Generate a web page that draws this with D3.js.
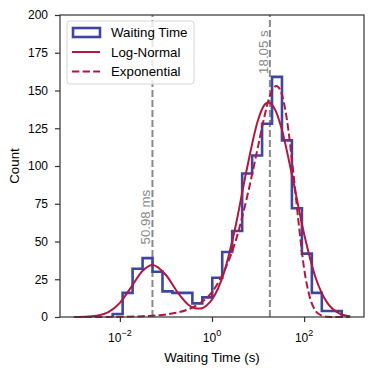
<!DOCTYPE html>
<html>
<head>
<meta charset="utf-8">
<script src="https://cdn.jsdelivr.net/npm/d3@7"></script>
<style>
  body { margin: 0; background: #fff; }
  svg { font-family: "Liberation Sans", Arial, sans-serif; }
</style>
</head>
<body>
<div id="chart"></div>
<script>
// histogram bin edges (seconds) and counts
var binEdges = [0.00698, 0.01148, 0.01888, 0.03111, 0.05117, 0.08414, 0.1384, 0.2275,
  0.3750, 0.6166, 1.014, 1.667, 2.742, 4.519, 7.430, 12.22, 20.09, 33.04,
  54.33, 89.54, 147.2, 242.1, 398.1, 654.6];
var binCounts = [2, 16, 32, 39, 30, 17, 16, 16, 9, 13, 26, 43, 57, 95, 107, 128, 159, 117, 72, 42, 16, 4, 4];

// log-normal fit curve, x as powers of ten
var lognormExp = [-3.0, -2.75, -2.5, -2.25, -2.0, -1.75, -1.5, -1.29, -1.0, -0.75, -0.5, -0.375,
  -0.25, -0.125, 0, 0.25, 0.5, 0.75, 1.0, 1.125, 1.22, 1.375, 1.5, 1.75, 2.0, 2.25, 2.5, 2.75, 3.0];
var lognormVal = [0.02, 0.15, 0.8, 3.2, 9.4, 20.0, 30.8, 34.5, 27.8, 16.5, 7.8, 5.8,
  5.6, 7.5, 11.6, 28.4, 58.5, 97, 130.5, 139.8, 142, 137, 126, 92, 55, 26, 9.5, 2.6, 0.5];

// exponential fit curve
var expoExp = [-3.0, -2.5, -2.0, -1.5, -1.0, -0.5, -0.25, 0, 0.25, 0.5, 0.75, 1.0, 1.125, 1.25,
  1.4, 1.5, 1.625, 1.75, 1.875, 2.0, 2.125, 2.25, 2.375, 2.5, 3.0];
var expoVal = [0.02, 0.05, 0.17, 0.53, 1.7, 5.3, 9.3, 16.5, 29.5, 49, 78, 113, 131, 146,
  153, 149, 131, 100, 64, 32, 13, 4, 1, 0.1, 0];

// marked medians
var markTimes = [0.05098, 18.05];
var markLabels = ["50.98 ms", "18.05 s"];
var markLabelY = [48, 161];

var yTicks = [0, 25, 50, 75, 100, 125, 150, 175, 200];
var xTicks = [1e-2, 1e0, 1e2];
var xTickPow = ["\u22122", "0", "2"];

var legendNames = ["Waiting Time", "Log-Normal", "Exponential"];

var width = 374, height = 374;
var margin = { top: 15, right: 10, bottom: 57, left: 60 };

var blue = "#3f46a2", red = "#b3173f", grey = "#8a8a8a";

var svg = d3.select("#chart").append("svg")
  .attr("width", width)
  .attr("height", height);

var x = d3.scaleLog()
  .domain([Math.pow(10, -3.3), Math.pow(10, 3.3)])
  .range([margin.left, width - margin.right]);

var y = d3.scaleLinear()
  .domain([0, 200])
  .range([height - margin.bottom, margin.top]);

// vertical marker lines
svg.selectAll(".vline")
  .data(markTimes)
  .enter().append("line")
  .attr("x1", function(d) { return x(d); })
  .attr("x2", function(d) { return x(d); })
  .attr("y1", y(0))
  .attr("y2", y(200))
  .attr("stroke", grey)
  .attr("stroke-width", 2)
  .attr("stroke-dasharray", "7,3");

// histogram outline (step)
var pts = [[binEdges[0], 0]];
binCounts.forEach(function(c, i) {
  pts.push([binEdges[i], c]);
  pts.push([binEdges[i + 1], c]);
});
pts.push([binEdges[binEdges.length - 1], 0]);

svg.append("path")
  .datum(pts)
  .attr("fill", "none")
  .attr("stroke", blue)
  .attr("stroke-width", 2.6)
  .attr("stroke-linejoin", "miter")
  .attr("d", d3.line()
    .x(function(d) { return x(d[0]); })
    .y(function(d) { return y(d[1]); }));

var curveLine = d3.line()
  .x(function(d) { return x(Math.pow(10, d[0])); })
  .y(function(d) { return y(d[1]); })
  .curve(d3.curveMonotoneX);

svg.append("path")
  .datum(lognormExp.map(function(u, i) { return [u, lognormVal[i]]; }))
  .attr("fill", "none")
  .attr("stroke", red)
  .attr("stroke-width", 2)
  .attr("d", curveLine);

svg.append("path")
  .datum(expoExp.map(function(u, i) { return [u, expoVal[i]]; }))
  .attr("fill", "none")
  .attr("stroke", red)
  .attr("stroke-width", 2)
  .attr("stroke-dasharray", "7.4,3.2")
  .attr("d", curveLine);

// marker labels
svg.selectAll(".mlabel")
  .data(markTimes)
  .enter().append("text")
  .attr("transform", function(d, i) {
    return "translate(" + (x(d) - 2) + "," + y(markLabelY[i]) + ") rotate(-90)";
  })
  .attr("font-size", "13.3px")
  .attr("fill", grey)
  .text(function(d, i) { return markLabels[i]; });

// frame
svg.append("rect")
  .attr("x", margin.left)
  .attr("y", margin.top)
  .attr("width", width - margin.left - margin.right)
  .attr("height", height - margin.top - margin.bottom)
  .attr("fill", "none")
  .attr("stroke", "#333")
  .attr("stroke-width", 1.2);

// axes
var yAxis = svg.append("g")
  .attr("transform", "translate(" + margin.left + ",0)")
  .call(d3.axisLeft(y).tickValues(yTicks).tickSize(5).tickPadding(7));
yAxis.select(".domain").remove();
yAxis.selectAll("line").attr("stroke", "#333").attr("stroke-width", 1.2);
yAxis.selectAll("text").attr("font-size", "12px").attr("fill", "#000")
  .attr("font-family", "'Liberation Sans', Arial, sans-serif");

var xAxis = svg.append("g")
  .attr("transform", "translate(0," + (height - margin.bottom) + ")")
  .call(d3.axisBottom(x).tickValues(xTicks).tickSize(5).tickFormat(""));
xAxis.select(".domain").remove();
xAxis.selectAll("line").attr("stroke", "#333").attr("stroke-width", 1.2);

var xl = svg.selectAll(".xtl")
  .data(xTicks)
  .enter().append("text")
  .attr("x", function(d) { return x(d); })
  .attr("y", 342)
  .attr("text-anchor", "middle")
  .attr("font-size", "12px");
xl.append("tspan").text("10");
xl.append("tspan")
  .attr("dy", -6)
  .attr("font-size", "9px")
  .text(function(d, i) { return xTickPow[i]; });

svg.append("text")
  .attr("x", (margin.left + width - margin.right) / 2)
  .attr("y", 362)
  .attr("text-anchor", "middle")
  .attr("font-size", "13.3px")
  .text("Waiting Time (s)");

svg.append("text")
  .attr("transform", "translate(19," + y(100) + ") rotate(-90)")
  .attr("text-anchor", "middle")
  .attr("font-size", "13.3px")
  .text("Count");

// legend
var lg = svg.append("g");
lg.append("rect")
  .attr("x", 67).attr("y", 21)
  .attr("width", 127).attr("height", 63)
  .attr("rx", 3)
  .attr("fill", "#fff").attr("fill-opacity", 0.8)
  .attr("stroke", "#d6d6d6");

var rowY = [32.5, 52, 71.5];
lg.append("rect")
  .attr("x", 73).attr("y", rowY[0] - 4.5)
  .attr("width", 27).attr("height", 9)
  .attr("fill", "none").attr("stroke", blue).attr("stroke-width", 2.6);
lg.append("line")
  .attr("x1", 72).attr("x2", 100).attr("y1", rowY[1]).attr("y2", rowY[1])
  .attr("stroke", red).attr("stroke-width", 2);
lg.append("line")
  .attr("x1", 72).attr("x2", 100).attr("y1", rowY[2]).attr("y2", rowY[2])
  .attr("stroke", red).attr("stroke-width", 2).attr("stroke-dasharray", "7.4,3.2");

lg.selectAll(".lt")
  .data(legendNames)
  .enter().append("text")
  .attr("x", 111)
  .attr("y", function(d, i) { return rowY[i] + 4.8; })
  .attr("font-size", "13.3px")
  .text(function(d) { return d; });
</script>
</body>
</html>
